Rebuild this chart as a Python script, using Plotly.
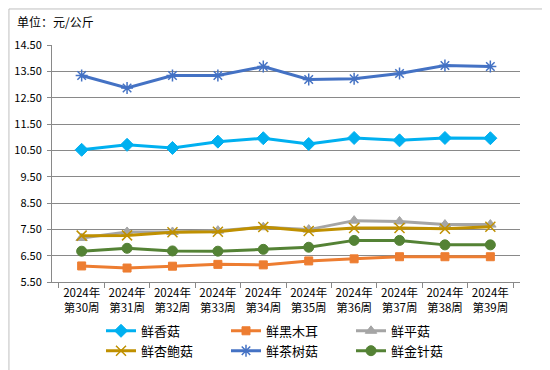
import plotly.graph_objects as go

weeks = ["2024年<br>第30周", "2024年<br>第31周", "2024年<br>第32周", "2024年<br>第33周", "2024年<br>第34周",
         "2024年<br>第35周", "2024年<br>第36周", "2024年<br>第37周", "2024年<br>第38周", "2024年<br>第39周"]

xianggu = [10.52, 10.71, 10.59, 10.83, 10.96, 10.74, 10.97, 10.88, 10.97, 10.96]
heimuer = [6.11, 6.03, 6.10, 6.17, 6.15, 6.30, 6.38, 6.46, 6.46, 6.46]
pinggu = [7.17, 7.40, 7.40, 7.45, 7.58, 7.49, 7.83, 7.80, 7.68, 7.68]
xingbaogu = [7.26, 7.27, 7.39, 7.41, 7.59, 7.44, 7.55, 7.55, 7.52, 7.60]
chashugu = [13.34, 12.87, 13.34, 13.34, 13.68, 13.19, 13.22, 13.42, 13.72, 13.68]
jinzhengu = [6.67, 6.78, 6.68, 6.67, 6.74, 6.82, 7.08, 7.08, 6.91, 6.91]

y_ticks = [5.5, 6.5, 7.5, 8.5, 9.5, 10.5, 11.5, 12.5, 13.5, 14.5]

series = [
    ("鲜香菇", xianggu, "#00B0F0", "diamond", 10, 1),
    ("鲜黑木耳", heimuer, "#ED7D31", "square", 8, 1),
    ("鲜平菇", pinggu, "#A5A5A5", "triangle-up", 10, 1),
    ("鲜杏鲍菇", xingbaogu, "#BF9000", "x-thin-open", 10, 1.5),
    ("鲜茶树菇", chashugu, "#4472C4", "asterisk-open", 10, 1.5),
    ("鲜金针菇", jinzhengu, "#548235", "circle", 10, 1),
]

fig = go.Figure()
for name, vals, color, sym, size, lw in series:
    fig.add_trace(go.Scatter(
        x=weeks, y=vals, name=name, mode="lines+markers",
        line=dict(color=color, width=3),
        marker=dict(symbol=sym, size=size, color=color, line=dict(color=color, width=lw)),
    ))

font_family = "Noto Sans CJK SC, sans-serif"
fig.update_layout(
    width=550, height=370,
    margin=dict(l=44, r=38, t=37, b=96, autoexpand=False),
    paper_bgcolor="white", plot_bgcolor="white",
    font=dict(family=font_family, size=11, color="black"),
    showlegend=True,
    legend=dict(
        orientation="h", xref="container", yref="container",
        x=0.51, xanchor="center", y=0.168, yanchor="top",
        entrywidth=80, font=dict(size=13), traceorder="normal",
        itemwidth=30, tracegroupgap=0, bgcolor="rgba(0,0,0,0)",
    ),
    annotations=[dict(
        text="单位：元/公斤", xref="paper", yref="paper", x=-0.078, y=1.1,
        xanchor="left", yanchor="middle", showarrow=False, font=dict(size=12),
    )],
    shapes=[dict(type="rect", xref="paper", yref="paper", x0=-0.092, x1=1.079, y0=-0.40, y1=1.152,
                 line=dict(color="#BFBFBF", width=1))],
)
fig.update_xaxes(
    type="category", showgrid=False, showline=True, linecolor="#898989", linewidth=1,
    ticks="outside", tickson="boundaries", ticklen=5, tickcolor="#898989",
    tickfont=dict(size=11.5), tickangle=0, mirror=False,
)
fig.update_yaxes(
    range=[5.5, 14.5], tickvals=y_ticks, ticktext=[f"{v:.2f}" for v in y_ticks],
    showgrid=True, gridcolor="#898989", gridwidth=1,
    showline=True, linecolor="#898989", linewidth=1,
    ticks="outside", ticklen=4, tickcolor="#898989", zeroline=False,
    tickfont=dict(size=11), ticklabelstandoff=3,
)

fig.write_html("out.html")
